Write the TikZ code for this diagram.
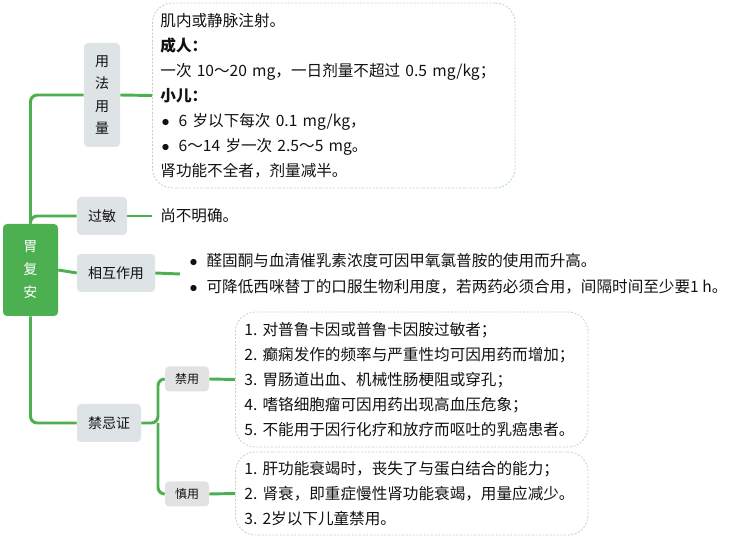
\documentclass[tikz,border=0pt]{standalone}
\usepackage{fontspec}
\setmainfont{Noto Sans CJK SC}
\usetikzlibrary{positioning}
\definecolor{mapgreen}{HTML}{4CAF50}
\definecolor{branchgray}{HTML}{DEE3E6}
\definecolor{leafgray}{HTML}{E2E2E2}
\definecolor{notegreen}{HTML}{B2DDB2}
\definecolor{textdark}{HTML}{111111}
\tikzset{
		% node styles for the map: root, branch, leaf and the note boxes
		root node/.style={rectangle,rounded corners=3pt,fill=mapgreen,text=white,align=center,
			minimum width=41.25pt,minimum height=69pt,inner sep=0pt,
			font=\fontsize{10.5pt}{17.25pt}\selectfont},
		branch node/.style={rectangle,rounded corners=3pt,fill=branchgray,text=textdark,align=center,
			inner xsep=8.25pt,inner ysep=0pt,minimum height=28.5pt,font=\fontsize{10.5pt}{16.9pt}\selectfont},
		leaf node/.style={rectangle,rounded corners=3pt,fill=leafgray,text=textdark,
			inner xsep=7.5pt,inner ysep=0pt,minimum height=18.75pt,font=\fontsize{9pt}{11pt}\selectfont},
		note box/.style={rectangle,rounded corners=15pt,draw=notegreen,dash pattern=on 1.5pt off 1.2pt,line width=0.6pt,
			text=textdark,align=left,inner xsep=6pt,inner ysep=0pt,font=\fontsize{11.7pt}{18.75pt}\selectfont},
		plain note/.style={text=textdark,align=left,inner xsep=6pt,inner ysep=0pt,
			font=\fontsize{11.7pt}{19.5pt}\selectfont},
		branch line/.style={draw=mapgreen,line width=2.2pt,rounded corners=5pt}
	}
\newcommand{\dotitem}[1]{\hspace*{#1}\makebox[12.75pt][l]{$\bullet$}}

\begin{document}
\begin{tikzpicture}[x=0.75pt,y=-0.75pt]
		\useasboundingbox (0,0) rectangle (733,538);
		% root and main branches
		\node [root node] (root) at (30.5,270) {胃\\复\\安};
		\node [branch node,minimum height=78pt] (yfyl) at (102,95) {用\\法\\用\\量};
		\node [branch node] (gm) at (102,216) {过敏};
		\node [branch node] (xhzy) at (116,273) {相互作用};
		\node [branch node] (jjz) at (109,423) {禁忌证};
		\node [leaf node] (jy) at (187,379) {禁用};
		\node [leaf node] (sy) at (187,494) {慎用};
		% notes
		\node [note box,anchor=west,text width=260pt,minimum height=138.75pt] (yfyl note) at (152,95.5) {%
			肌内或静脉注射。\\
			\textbf{成人：}\\
			一次 10～20 mg，一日剂量不超过 0.5 mg/kg；\\
			\textbf{小儿：}\\
			\dotitem{1pt}6 岁以下每次 0.1 mg/kg，\\
			\dotitem{1pt}6～14 岁一次 2.5～5 mg。\\
			肾功能不全者，剂量减半。};
		\node [plain note,anchor=west] (gm note) at (152,216) {尚不明确。};
		\node [plain note,anchor=west,inner xsep=0pt] (xhzy note) at (180,274) {%
			\dotitem{7pt}醛固酮与血清催乳素浓度可因甲氧氯普胺的使用而升高。\\
			\dotitem{7pt}可降低西咪替丁的口服生物利用度，若两药必须合用，间隔时间至少要1~h。};
		\node [note box,anchor=west,inner xsep=6.75pt,text width=251pt,minimum height=101.25pt] (jy note) at (235,379.5) {%
			1.~对普鲁卡因或普鲁卡因胺过敏者；\\
			2.~癫痫发作的频率与严重性均可因用药而增加；\\
			3.~胃肠道出血、机械性肠梗阻或穿孔；\\
			4.~嗜铬细胞瘤可因用药出现高血压危象；\\
			5.~不能用于因行化疗和放疗而呕吐的乳癌患者。};
		\node [note box,anchor=west,inner xsep=6.75pt,text width=251pt,minimum height=62.25pt] (sy note) at (235,493.5) {%
			1.~肝功能衰竭时，丧失了与蛋白结合的能力；\\
			2.~肾衰，即重症慢性肾功能衰竭，用量应减少。\\
			3.~2岁以下儿童禁用。};
		% connectors
		\draw [branch line] (root.north) |- (yfyl.west);
		\draw [branch line] (root.north) |- (gm.west);
		\draw [branch line] (root.east) -- (xhzy.west);
		\draw [branch line] (root.south) |- (jjz.west);
		\coordinate (jjz fork) at (158,423);
		\draw [branch line] (jjz.east) -- (jjz fork) |- (jy.west);
		\draw [branch line] (jjz fork) |- (sy.west);
		\draw [branch line] (yfyl.east) -- (yfyl note.west);
		\draw [branch line] (gm.east) -- (gm note.west);
		\draw [branch line] (xhzy.east) -- (xhzy note.west);
		\draw [branch line] (jy.east) -- (jy note.west);
		\draw [branch line] (sy.east) -- (sy note.west);
	\end{tikzpicture}
\end{document}
